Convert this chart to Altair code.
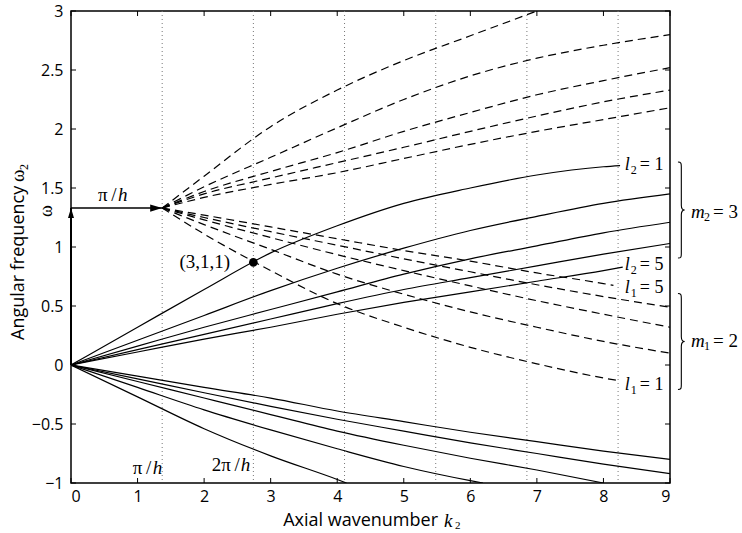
import altair as alt
import pandas as pd

# ---------------- values ----------------
PI_H = 1.37            # pi/h on the k axis
OMEGA_START = 1.33     # omega at the tip of the horizontal arrow
DOT_K, DOT_W = 2.74, 0.87   # resonance point (3,1,1)

X_TICKS = [0, 1, 2, 3, 4, 5, 6, 7, 8, 9]
Y_TICKS = [-1, -0.5, 0, 0.5, 1, 1.5, 2, 2.5, 3]
MARKER_K = [1.37, 2.74, 4.11, 5.48, 6.85, 8.22]   # multiples of pi/h

# m2 = 3 branch (solid, from origin), l2 = 1..5
M2_K1 = [0, 1, 2, 3, 4, 5, 6, 7, 8, 8.25]
M2_W1 = [0, 0.32, 0.64, 0.95, 1.18, 1.37, 1.50, 1.61, 1.68, 1.69]
M2_K = [0, 1, 2, 3, 4, 5, 6, 7, 8, 9]
M2_W2 = [0, 0.21, 0.42, 0.63, 0.82, 0.99, 1.14, 1.26, 1.37, 1.45]
M2_W3 = [0, 0.16, 0.32, 0.47, 0.62, 0.77, 0.90, 1.01, 1.12, 1.21]
M2_W4 = [0, 0.13, 0.26, 0.39, 0.52, 0.64, 0.74, 0.84, 0.94, 1.03]
M2_K5 = [0, 1, 2, 3, 4, 5, 6, 7, 8, 8.29]
M2_W5 = [0, 0.11, 0.22, 0.32, 0.43, 0.53, 0.62, 0.71, 0.80, 0.83]

# negative branch (solid, from origin)
NEG_K1 = [0, 1, 2, 3, 4, 4.14]
NEG_W1 = [0, -0.27, -0.54, -0.77, -0.97, -1.0]
NEG_K2 = [0, 1, 2, 3, 4, 5, 6, 6.19]
NEG_W2 = [0, -0.19, -0.38, -0.55, -0.71, -0.86, -0.98, -1.0]
NEG_K3 = [0, 1, 2, 3, 4, 5, 6, 7, 8]
NEG_W3 = [0, -0.14, -0.28, -0.42, -0.56, -0.68, -0.79, -0.89, -1.0]
NEG_K = [0, 1, 2, 3, 4, 5, 6, 7, 8, 9]
NEG_W4 = [0, -0.117, -0.235, -0.35, -0.46, -0.56, -0.66, -0.75, -0.84, -0.92]
NEG_W5 = [0, -0.095, -0.19, -0.28, -0.39, -0.48, -0.57, -0.65, -0.73, -0.80]

# m1 = 2 branch (dashed, descending from the arrow tip), l1 = 1..5
D_K1 = [1.37, 2, 3, 4, 5, 6, 7, 8, 8.2]
D_W1 = [1.33, 1.11, 0.80, 0.52, 0.32, 0.15, 0.01, -0.11, -0.13]
D_K = [1.37, 2, 3, 4, 5, 6, 7, 8, 9]
D_W2 = [1.33, 1.19, 0.98, 0.77, 0.60, 0.45, 0.32, 0.20, 0.10]
D_W3 = [1.33, 1.23, 1.08, 0.935, 0.80, 0.67, 0.545, 0.43, 0.32]
D_W4 = [1.33, 1.25, 1.13, 1.015, 0.90, 0.79, 0.68, 0.58, 0.49]
D_K5 = [1.37, 2, 3, 4, 5, 6, 7, 8, 8.15]
D_W5 = [1.33, 1.27, 1.17, 1.07, 0.97, 0.88, 0.78, 0.69, 0.675]

# ascending dashed branch from the arrow tip
U_K1 = [1.37, 2, 3, 4, 5, 6, 7]
U_W1 = [1.33, 1.60, 2.02, 2.33, 2.58, 2.79, 3.0]
U_K = [1.37, 2, 3, 4, 5, 6, 7, 8, 9]
U_W2 = [1.33, 1.51, 1.76, 2.01, 2.25, 2.45, 2.60, 2.71, 2.80]
U_W3 = [1.33, 1.47, 1.64, 1.80, 1.98, 2.14, 2.29, 2.41, 2.52]
U_W4 = [1.33, 1.45, 1.585, 1.715, 1.845, 1.98, 2.11, 2.23, 2.33]
U_W5 = [1.33, 1.42, 1.53, 1.63, 1.75, 1.87, 1.98, 2.08, 2.18]

# annotation texts
L_LABEL_Y = [1.695, 0.847, 0.653, -0.17]
L_SUB = ["2", "2", "1", "1"]
L_RHS = ["= 1", "= 5", "= 5", "= 1"]
M_LABEL_Y = [1.30, 0.20]
M_SUB = ["2", "1"]
M_RHS = ["= 3", "= 2"]
BRACE_Y = [1.313, 0.199]

# ---------------- layout ----------------
W, H = 599, 472
SERIF = "Liberation Serif"
SANS = "Open Sans"


def series(name, ks, ws):
    return pd.DataFrame({"k": ks, "w": ws, "s": name})


solid = pd.concat([
    series("a1", M2_K1, M2_W1), series("a2", M2_K, M2_W2), series("a3", M2_K, M2_W3),
    series("a4", M2_K, M2_W4), series("a5", M2_K5, M2_W5),
    series("n1", NEG_K1, NEG_W1), series("n2", NEG_K2, NEG_W2), series("n3", NEG_K3, NEG_W3),
    series("n4", NEG_K, NEG_W4), series("n5", NEG_K, NEG_W5),
])
dashed = pd.concat([
    series("d1", D_K1, D_W1), series("d2", D_K, D_W2), series("d3", D_K, D_W3),
    series("d4", D_K, D_W4), series("d5", D_K5, D_W5),
    series("u1", U_K1, U_W1), series("u2", U_K, U_W2), series("u3", U_K, U_W3),
    series("u4", U_K, U_W4), series("u5", U_K, U_W5),
])

xs = alt.Scale(domain=[0, 9], nice=False, zero=False)
ys = alt.Scale(domain=[-1, 3], nice=False, zero=False)
X_AXIS = alt.Axis(values=X_TICKS, labelPadding=5, format="~g", title=None)
Y_AXIS = alt.Axis(values=Y_TICKS, labelPadding=8, format="~g", title=None)
XN = alt.X("k:Q", scale=xs, axis=X_AXIS)
YN = alt.Y("w:Q", scale=ys, axis=Y_AXIS)

markers = alt.Chart(pd.DataFrame({"k": MARKER_K})).mark_rule(
    color="#777777", strokeWidth=1, strokeDash=[1, 3]
).encode(x=XN, y=alt.value(0), y2=alt.value(H))

solid_layer = alt.Chart(solid).mark_line(
    color="black", strokeWidth=1.2, interpolate="monotone", clip=True
).encode(x=XN, y=YN, detail="s:N")

dashed_layer = alt.Chart(dashed).mark_line(
    color="black", strokeWidth=1.2, strokeDash=[8, 5], interpolate="monotone", clip=True
).encode(x=XN, y=YN, detail="s:N")

arrow_df = pd.DataFrame({"k": [0], "k2": [PI_H], "w": [OMEGA_START]})
arrow_line = alt.Chart(arrow_df).mark_rule(color="black", strokeWidth=1.5).encode(
    x=XN, x2="k2:Q", y=YN)
vert_line = alt.Chart(arrow_df).mark_rule(color="black", strokeWidth=2).encode(
    x=XN, y=YN, y2=alt.datum(0))
head_right = alt.Chart(pd.DataFrame({"k": [PI_H], "w": [OMEGA_START]})).mark_point(
    shape="M-1,-0.6L1,0L-1,0.6Z", size=144, filled=True, color="black", opacity=1,
    xOffset=-6).encode(x=XN, y=YN)
head_up = alt.Chart(pd.DataFrame({"k": [0], "w": [OMEGA_START]})).mark_point(
    shape="M-0.6,1L0,-1L0.6,1Z", size=100, filled=True, color="black", opacity=1,
    yOffset=5).encode(x=XN, y=YN)

dot = alt.Chart(pd.DataFrame({"k": [DOT_K], "w": [DOT_W]})).mark_point(
    filled=True, color="black", size=75, opacity=1).encode(x=XN, y=YN)


def txt(df, **kw):
    base = dict(color="black", baseline="middle")
    base.update(kw)
    return alt.Chart(df).mark_text(**base)


# (3,1,1)
lab311 = txt(pd.DataFrame({"k": [2.01], "w": [0.875], "t": ["(3,1,1)"]}),
             font=SERIF, fontSize=19, align="center").encode(x=XN, y=YN, text="t:N")

# pi/h labels
pih_df = pd.DataFrame({"k": [0.405, 0.927, 2.114], "w": [1.44, -0.876, -0.85],
                       "t": ["π\u2009/", "π\u2009/", "2π\u2009/"]})
pih_txt = txt(pih_df, font=SERIF, fontSize=19, align="left").encode(x=XN, y=YN, text="t:N")
pih_h1 = txt(pih_df.iloc[:2], font=SERIF, fontSize=19, fontStyle="italic",
             align="left", dx=20).encode(x=XN, y=YN, text=alt.value("h"))
pih_h2 = txt(pih_df.iloc[2:], font=SERIF, fontSize=19, fontStyle="italic",
             align="left", dx=29).encode(x=XN, y=YN, text=alt.value("h"))

# omega label by vertical arrow
omega_lab = txt(pd.DataFrame({"k": [-0.36], "w": [1.305]}), font=SERIF, fontSize=18,
                angle=270, align="center").encode(x=XN, y=YN, text=alt.value("ω"))

# l labels
l_df = pd.DataFrame({"k": [8.32] * 4, "w": L_LABEL_Y, "sub": L_SUB, "rhs": L_RHS})
l_it = txt(l_df, font=SERIF, fontSize=18, fontStyle="italic", align="left").encode(
    x=XN, y=YN, text=alt.value("l"))
l_sub = txt(l_df, font=SERIF, fontSize=12, align="left", dx=6, dy=5).encode(
    x=XN, y=YN, text="sub:N")
l_rhs = txt(l_df, font=SERIF, fontSize=18, align="left", dx=15).encode(
    x=XN, y=YN, text="rhs:N")

# m labels
m_df = pd.DataFrame({"k": [9.315] * 2, "w": M_LABEL_Y, "sub": M_SUB, "rhs": M_RHS})
m_it = txt(m_df, font=SERIF, fontSize=19, fontStyle="italic", align="left").encode(
    x=XN, y=YN, text=alt.value("m"))
m_sub = txt(m_df, font=SERIF, fontSize=12, align="left", dx=13, dy=5).encode(
    x=XN, y=YN, text="sub:N")
m_rhs = txt(m_df, font=SERIF, fontSize=19, align="left", dx=22).encode(
    x=XN, y=YN, text="rhs:N")

# braces
BRACE = ("M-0.07,-1C0,-1 0,-0.97 0,-0.9L0,-0.1C0,-0.03 0.03,0 0.07,0"
         "C0.03,0 0,0.03 0,0.1L0,0.9C0,0.97 0,1 -0.07,1")
braces = alt.Chart(pd.DataFrame({"k": [9.17] * 2, "w": BRACE_Y})).mark_point(
    shape=BRACE, size=9216, filled=False, color="black", strokeWidth=1.1, opacity=1
).encode(x=XN, y=YN)

# axis titles
one = pd.DataFrame({"a": [0]})
xt1 = txt(one, font=SANS, fontSize=18, align="right").encode(
    x=alt.value(367), y=alt.value(510), text=alt.value("Axial wavenumber"))
xt2 = txt(one, font=SERIF, fontSize=19, fontStyle="italic", align="left").encode(
    x=alt.value(373), y=alt.value(510), text=alt.value("k"))
xt3 = txt(one, font=SERIF, fontSize=11, align="left").encode(
    x=alt.value(384), y=alt.value(515), text=alt.value("2"))
yt1 = txt(one, font=SANS, fontSize=18, align="left", angle=270).encode(
    x=alt.value(-52), y=alt.value(329), text=alt.value("Angular frequency"))
yt2 = txt(one, font=SERIF, fontSize=19, align="left", angle=270).encode(
    x=alt.value(-53), y=alt.value(171), text=alt.value("ω"))
yt3 = txt(one, font=SERIF, fontSize=12, align="left", angle=270).encode(
    x=alt.value(-47), y=alt.value(159), text=alt.value("2"))

# inward ticks on all four sides
xt_df = pd.DataFrame({"k": X_TICKS})
yt_df = pd.DataFrame({"w": Y_TICKS})
tk = dict(color="black", strokeWidth=1)
ticks = [
    alt.Chart(xt_df).mark_rule(**tk).encode(x=XN, y=alt.value(H), y2=alt.value(H - 5)),
    alt.Chart(xt_df).mark_rule(**tk).encode(x=XN, y=alt.value(0), y2=alt.value(5)),
    alt.Chart(yt_df).mark_rule(**tk).encode(y=YN, x=alt.value(0), x2=alt.value(5)),
    alt.Chart(yt_df).mark_rule(**tk).encode(y=YN, x=alt.value(W), x2=alt.value(W - 5)),
]

chart = alt.layer(
    markers, solid_layer, dashed_layer, vert_line, arrow_line, head_right, head_up, dot,
    lab311, pih_txt, pih_h1, pih_h2, omega_lab, l_it, l_sub, l_rhs, m_it, m_sub, m_rhs,
    braces, xt1, xt2, xt3, yt1, yt2, yt3, *ticks
).properties(
    width=W, height=H,
    autosize=alt.AutoSizeParams(type="none"),
    padding={"left": 71, "top": 11, "right": 72, "bottom": 50},
    background="white",
).configure_view(
    stroke="black", strokeWidth=1.5
).configure_axis(
    domain=False, grid=False, ticks=False, labelFont=SANS, labelFontSize=16,
    labelColor="black"
)

chart.save("out.html", embed_options={"renderer": "svg", "actions": False})
